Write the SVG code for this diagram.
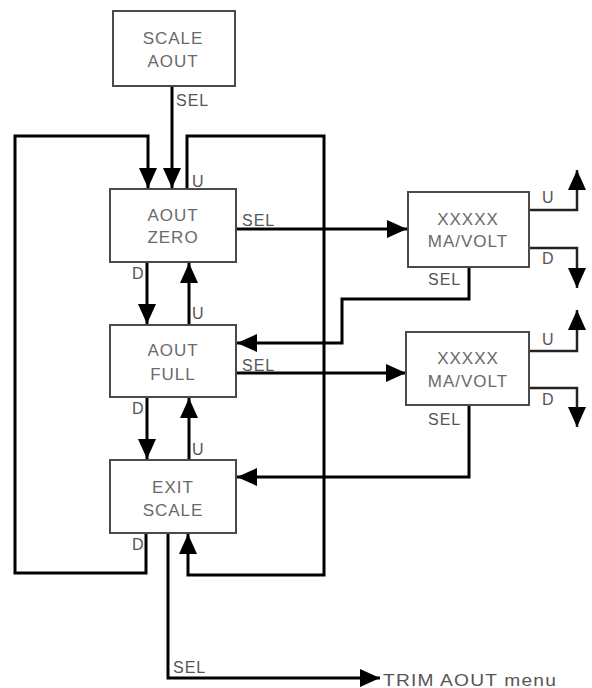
<svg xmlns="http://www.w3.org/2000/svg" width="592" height="688" viewBox="0 0 592 688">
<style>
.box{fill:#fff;stroke:#4a4a4a;stroke-width:2}
.bt{font-family:"Liberation Sans",Arial,sans-serif;font-size:17px;fill:#6a6a6a;text-anchor:middle;letter-spacing:1px}
.lbl{font-family:"Liberation Sans",Arial,sans-serif;font-size:16px;fill:#555;letter-spacing:1px}
.ln{fill:none;stroke:#000;stroke-width:3}
.ln2{fill:none;stroke:#222;stroke-width:2.5}
</style>
<defs>
<marker id="ah" markerUnits="userSpaceOnUse" markerWidth="20" markerHeight="18" refX="20" refY="9" orient="auto" viewBox="0 0 20 18">
<path d="M0,0 L20,9 L0,18 z" fill="#000"/>
</marker>
</defs>
<rect width="592" height="688" fill="#fff"/>
<g id="connectors">
<path class="ln" d="M172,86 V188" marker-end="url(#ah)"/>
<path class="ln" d="M146,533 V573 H15 V136 H148 V188" marker-end="url(#ah)"/>
<path class="ln" d="M187,189 V136 H324 V575 H188 V534" marker-end="url(#ah)"/>
<path class="ln" d="M147,262 V324" marker-end="url(#ah)"/>
<path class="ln" d="M189,325 V263" marker-end="url(#ah)"/>
<path class="ln" d="M147,397 V459" marker-end="url(#ah)"/>
<path class="ln" d="M189,460 V398" marker-end="url(#ah)"/>
<path class="ln" d="M236,229 H407" marker-end="url(#ah)"/>
<path class="ln" d="M232,373 H406" marker-end="url(#ah)"/>
<path class="ln" d="M469,267 V299 H342 V343 H237" marker-end="url(#ah)"/>
<path class="ln" d="M469,405 V477 H237" marker-end="url(#ah)"/>
<path class="ln2" d="M529,210 H577 V170" marker-end="url(#ah)"/>
<path class="ln2" d="M529,248 H577 V288" marker-end="url(#ah)"/>
<path class="ln2" d="M529,351 H577 V310" marker-end="url(#ah)"/>
<path class="ln2" d="M529,388 H577 V427" marker-end="url(#ah)"/>
<path class="ln" d="M168,533 V678 H380" marker-end="url(#ah)"/>
<text class="lbl" x="176" y="106">SEL</text>
<text class="lbl" x="192" y="187">U</text>
<text class="lbl" x="132" y="279">D</text>
<text class="lbl" x="192" y="319">U</text>
<text class="lbl" x="132" y="414">D</text>
<text class="lbl" x="192" y="455">U</text>
<text class="lbl" x="132" y="550">D</text>
<text class="lbl" x="242" y="226">SEL</text>
<text class="lbl" x="242" y="371">SEL</text>
<text class="lbl" x="428" y="285">SEL</text>
<text class="lbl" x="428" y="425">SEL</text>
<text class="lbl" x="542" y="203">U</text>
<text class="lbl" x="542" y="264">D</text>
<text class="lbl" x="542" y="345">U</text>
<text class="lbl" x="542" y="405">D</text>
<text class="lbl" x="173" y="673">SEL</text>
<text class="lbl" x="383" y="686" font-size="17" letter-spacing="0.5" textLength="174" lengthAdjust="spacingAndGlyphs" fill="#444">TRIM AOUT menu</text>
</g>
<g id="scale-aout">
<rect class="box" x="113" y="11" width="122" height="75"/>
<text class="bt" x="173" y="44">SCALE</text>
<text class="bt" x="173" y="67">AOUT</text>
</g>
<g id="aout-zero">
<rect class="box" x="110" y="189" width="126" height="73"/>
<text class="bt" x="173" y="221">AOUT</text>
<text class="bt" x="173" y="243">ZERO</text>
</g>
<g id="aout-full">
<rect class="box" x="110" y="325" width="126" height="72"/>
<text class="bt" x="173" y="356">AOUT</text>
<text class="bt" x="173" y="380">FULL</text>
</g>
<g id="exit-scale">
<rect class="box" x="110" y="460" width="126" height="73"/>
<text class="bt" x="173" y="493">EXIT</text>
<text class="bt" x="173" y="516">SCALE</text>
</g>
<g id="mavolt-1">
<rect class="box" x="408" y="192" width="121" height="75"/>
<text class="bt" x="468" y="225">XXXXX</text>
<text class="bt" x="468" y="247">MA/VOLT</text>
</g>
<g id="mavolt-2">
<rect class="box" x="406" y="332" width="123" height="73"/>
<text class="bt" x="468" y="364">XXXXX</text>
<text class="bt" x="468" y="387">MA/VOLT</text>
</g>
</svg>
